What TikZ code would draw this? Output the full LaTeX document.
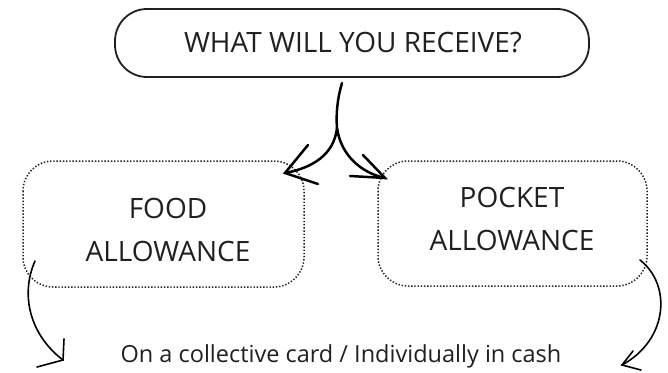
\documentclass[tikz,border=0pt]{standalone}
\usepackage{fontspec}
\setmainfont{Open Sans}
\definecolor{ink}{HTML}{231F20}
\begin{document}
\begin{tikzpicture}[x=1pt,y=-1pt,
  topbox/.style={draw=ink,line width=1.8pt,rounded corners=32pt},
  dotbox/.style={draw=ink,line width=1.5pt,dash pattern=on 1.4pt off 1.8pt,rounded corners=30pt},
  lbl/.style={text=ink,font=\fontsize{28}{43}\selectfont,align=center},
  thick arrow/.style={draw=black,line width=2.5pt,line cap=round},
  thin arrow/.style={draw=black,line width=1.6pt,line cap=round}]
\useasboundingbox (0,0) rectangle (668,372);
% top box
\draw[topbox] (115,9) rectangle (589,77);
\node[lbl] (top) at (353,43) {WHAT WILL YOU RECEIVE?};
% dotted boxes
\draw[dotbox] (23,161) rectangle (304,287);
\node[lbl] (food) at (168,230) {FOOD\\ALLOWANCE};
\draw[dotbox] (378,161) rectangle (647,286);
\node[lbl] (pocket) at (512,219) {POCKET\\ALLOWANCE};
% bottom text
\node[text=ink,font=\fontsize{23.5}{26}\selectfont] (bottom) at (341,356) {On a collective card / Individually in cash};
% coordinates
\coordinate (s) at (342,83);
\coordinate (j) at (337,128);
\coordinate (lt) at (285,173);
\coordinate (rt) at (385,178);
% central arrows
\draw[thick arrow] (s) .. controls (337,100) and (336,115) .. (j);
\draw[thick arrow] (j) .. controls (334,155) and (312,168) .. (lt);
\draw[thick arrow] (j) .. controls (341,156) and (362,173) .. (rt);
\draw[thick arrow] (308,145) -- (lt) -- (318,184);
\draw[thick arrow] (363,155) -- (rt) -- (350,176);
% bottom arrows
\coordinate (bl0) at (35,261);
\coordinate (bl1) at (63,360);
\draw[thin arrow] (bl0) .. controls (20,295) and (30,335) .. (bl1);
\draw[thin arrow] (64,339) -- (bl1) -- (37,367);
\coordinate (br0) at (640,260);
\coordinate (br1) at (622,365);
\draw[thin arrow] (br0) .. controls (672,285) and (668,340) .. (br1);
\draw[thin arrow] (633,351) -- (br1) -- (641,370);
\end{tikzpicture}
\end{document}
